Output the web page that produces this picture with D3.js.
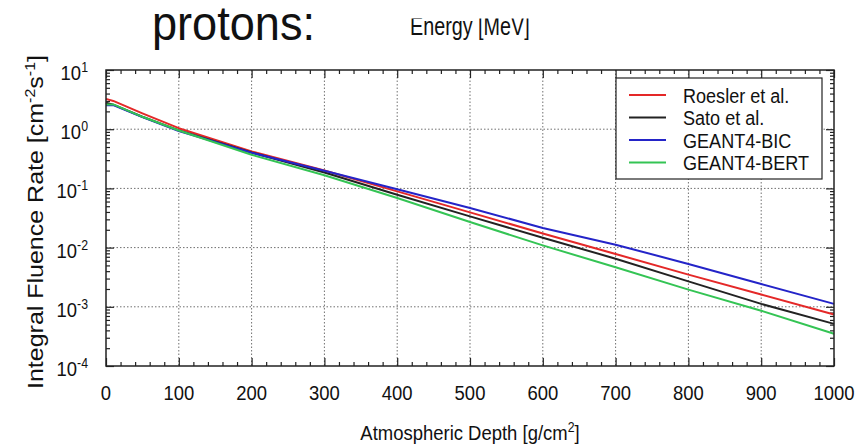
<!DOCTYPE html>
<html>
<head>
<meta charset="utf-8">
<script src="https://cdn.jsdelivr.net/npm/d3@7"></script>
<style>
  body { margin: 0; background: #fff; }
  text { font-family: "Liberation Sans", Arial, sans-serif; fill: #111; }
</style>
</head>
<body>
<div id="chart"></div>
<script>
// atmospheric depth [g/cm2] and integral fluence rate per model
const depth   = [0, 10, 50, 100, 200, 300, 400, 500, 600, 700, 800, 900, 1000];
const roesler = [3.25, 3.0, 1.85, 1.04, 0.42, 0.2, 0.089, 0.0394, 0.0173, 0.0078, 0.0035, 0.00161, 0.00074];
const sato    = [2.8, 2.6, 1.62, 0.955, 0.404, 0.186, 0.078, 0.0337, 0.0147, 0.0065, 0.00269, 0.00112, 0.000515];
const bic     = [2.55, 2.55, 1.6, 0.93, 0.40, 0.198, 0.0965, 0.0467, 0.0215, 0.0112, 0.0053, 0.00243, 0.00112];
const bert    = [2.62, 2.62, 1.62, 0.95, 0.37, 0.167, 0.069, 0.0271, 0.0109, 0.00465, 0.00195, 0.00086, 0.00035];

const seriesNames = ["Roesler et al.", "Sato et al.", "GEANT4-BIC", "GEANT4-BERT"];
const seriesColors = ["#e42828", "#222222", "#2424c8", "#34c454"];
const seriesValues = [roesler, sato, bic, bert];

const xTicks = [0, 100, 200, 300, 400, 500, 600, 700, 800, 900, 1000];
const yExps = [1, 0, -1, -2, -3, -4];

const W = 868, H = 446;
const plot = { left: 106, right: 834, top: 70, bottom: 366 };

const svg = d3.select("#chart").append("svg")
    .attr("width", W).attr("height", H);

const x = d3.scaleLinear().domain([0, 1000]).range([plot.left, plot.right]);
const y = d3.scaleLog().domain([1e-4, 10]).range([plot.bottom, plot.top]);

// minor ticks
const xMinor = d3.range(0, 1001, 20).filter(v => v % 100 !== 0);
const yMinor = [];
for (let e = -4; e < 1; e++) for (let m = 2; m <= 9; m++) yMinor.push(m * Math.pow(10, e));

// dotted grid
const grid = svg.append("g").attr("stroke", "#707070").attr("stroke-width", 1)
    .attr("stroke-dasharray", "1.5,2");
grid.selectAll(".gx").data(xTicks.slice(1, -1)).join("line")
    .attr("x1", d => x(d)).attr("x2", d => x(d))
    .attr("y1", plot.top).attr("y2", plot.bottom);
grid.selectAll(".gy").data(yExps.slice(1, -1)).join("line")
    .attr("x1", plot.left).attr("x2", plot.right)
    .attr("y1", d => y(Math.pow(10, d))).attr("y2", d => y(Math.pow(10, d)));

// tick marks on all four sides, pointing inward
function ticks(axis, vals, size, transform) {
    const g = svg.append("g").attr("transform", transform)
        .call(axis.tickValues(vals).tickSize(-size).tickFormat(""));
    g.select(".domain").remove();
    g.selectAll(".tick line").attr("stroke", "#222").attr("stroke-width", 1.2);
}
const yMajor = yExps.map(e => Math.pow(10, e));
ticks(d3.axisBottom(x), xTicks, 8, `translate(0,${plot.bottom})`);
ticks(d3.axisBottom(x), xMinor, 4, `translate(0,${plot.bottom})`);
ticks(d3.axisTop(x), xTicks, 8, `translate(0,${plot.top})`);
ticks(d3.axisTop(x), xMinor, 4, `translate(0,${plot.top})`);
ticks(d3.axisLeft(y), yMajor, 8, `translate(${plot.left},0)`);
ticks(d3.axisLeft(y), yMinor, 4, `translate(${plot.left},0)`);
ticks(d3.axisRight(y), yMajor, 8, `translate(${plot.right},0)`);
ticks(d3.axisRight(y), yMinor, 4, `translate(${plot.right},0)`);

// data lines
const line = d3.line().x(d => x(d[0])).y(d => y(d[1]));
seriesValues.forEach((vals, i) => {
    svg.append("path")
        .datum(depth.map((d, j) => [d, vals[j]]))
        .attr("fill", "none")
        .attr("stroke", seriesColors[i])
        .attr("stroke-width", 2)
        .attr("stroke-linejoin", "round")
        .attr("d", line);
});

// frame
svg.append("rect")
    .attr("x", plot.left).attr("y", plot.top)
    .attr("width", plot.right - plot.left).attr("height", plot.bottom - plot.top)
    .attr("fill", "none").attr("stroke", "#222").attr("stroke-width", 1.5);

// x tick labels
xTicks.forEach(v => {
    svg.append("text")
        .attr("transform", `translate(${x(v)},${plot.bottom + 34}) scale(0.88,1)`)
        .attr("text-anchor", "middle")
        .attr("font-size", 21)
        .text(v);
});

// y tick labels 10^n
yExps.forEach(e => {
    const t = svg.append("text")
        .attr("transform", `translate(88,${y(Math.pow(10, e)) + 10}) scale(0.88,1)`)
        .attr("text-anchor", "end")
        .attr("font-size", 21);
    t.append("tspan").text("10");
    t.append("tspan").attr("font-size", 14).attr("dy", -8).text(e);
});

// axis titles
const xt = svg.append("text")
    .attr("transform", `translate(${(plot.left + plot.right) / 2},440) scale(0.88,1)`)
    .attr("text-anchor", "middle")
    .attr("font-size", 21);
xt.append("tspan").text("Atmospheric Depth [g/cm");
xt.append("tspan").attr("font-size", 14).attr("dy", -8).text("2");
xt.append("tspan").attr("dy", 8).text("]");

const yt = svg.append("text")
    .attr("transform", "translate(43,222) rotate(-90) scale(1,0.9)")
    .attr("text-anchor", "middle")
    .attr("font-size", 25);
yt.append("tspan").text("Integral Fluence Rate  [cm");
yt.append("tspan").attr("font-size", 16).attr("dy", -9).text("-2");
yt.append("tspan").attr("dy", 9).text("s");
yt.append("tspan").attr("font-size", 16).attr("dy", -9).text("-1");
yt.append("tspan").attr("dy", 9).text("]");

// legend
const legend = svg.append("g");
legend.append("rect")
    .attr("x", 616).attr("y", 78).attr("width", 206).attr("height", 101)
    .attr("fill", "#fff").attr("stroke", "#222").attr("stroke-width", 1.2);
seriesNames.forEach((name, i) => {
    const ry = 95 + i * 22.5;
    legend.append("line")
        .attr("x1", 629).attr("x2", 666).attr("y1", ry).attr("y2", ry)
        .attr("stroke", seriesColors[i]).attr("stroke-width", 2);
    legend.append("text")
        .attr("transform", `translate(683,${ry + 7.5}) scale(0.86,1)`)
        .attr("font-size", 21)
        .text(name);
});

// heading and the clipped line above it
svg.append("text")
    .attr("transform", "translate(152,40) scale(0.94,1)")
    .attr("font-size", 48)
    .text("protons:");

svg.append("clipPath").attr("id", "topcut")
    .append("rect").attr("x", 380).attr("y", 18.5).attr("width", 200).attr("height", 30);
svg.append("g")
    .attr("clip-path", "url(#topcut)")
    .append("text")
    .attr("transform", "translate(410,34.5) scale(0.76,1)")
    .attr("font-size", 26)
    .text("Energy [MeV]");
</script>
</body>
</html>
